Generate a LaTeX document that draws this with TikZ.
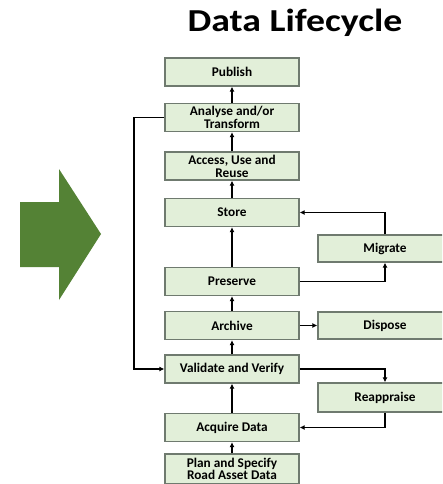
\documentclass[tikz,border=0pt]{standalone}
\usepackage{fontspec}
\setmainfont{Carlito}
\usetikzlibrary{arrows.meta}
\definecolor{boxfill}{HTML}{E2EFD9}
\definecolor{boxline}{HTML}{6F7A6F}
\definecolor{arrowgreen}{HTML}{548235}
\begin{document}
\begin{tikzpicture}[x=1pt,y=-1pt,
  stage/.style={draw=boxline, line width=1.3pt, fill=boxfill, minimum width=134pt,
    minimum height=28pt, inner sep=0pt, align=center, font=\fontsize{13.3}{13.2}\selectfont\bfseries},
  flow/.style={line width=1.9pt, -{Latex[length=5pt,width=5pt]}}]
\useasboundingbox (0,0) rectangle (442,484);
\begin{scope}
\clip (0,0) rectangle (442,484);
% big block arrow on the left
\fill[arrowgreen] (20,202) -- (59,202) -- (59,169) -- (101,234) -- (59,300) -- (59,267) -- (20,267) -- cycle;
% title
\node[font=\fontsize{32}{34}\selectfont\bfseries, anchor=base, inner sep=0pt] (title) at (295,32) {\scalebox{1.18}[1]{Data Lifecycle}};
% main column
\node[stage] (publish) at (232,72) {Publish};
\node[stage] (analyse) at (232,117.5) {Analyse and/or\\Transform};
\node[stage] (access) at (232,166) {Access, Use and\\Reuse};
\node[stage] (store) at (232,212.5) {Store};
\node[stage] (preserve) at (232,281.5) {Preserve};
\node[stage] (archive) at (232,325.5) {Archive};
\node[stage] (validate) at (232,369) {Validate and Verify};
\node[stage] (acquire) at (232,427.5) {Acquire Data};
\node[stage, minimum height=30pt, font=\fontsize{13.3}{12.6}\selectfont\bfseries] (plan) at (232,469) {Plan and Specify\\Road Asset Data};
% side column
\node[stage, minimum height=27pt] (migrate) at (385,248.5) {Migrate};
\node[stage, minimum height=27pt] (dispose) at (385,325.5) {Dispose};
\node[stage, minimum height=29pt] (reappraise) at (385,397.5) {Reappraise};
% upward flow
\draw[flow] (plan) -- (acquire);
\draw[flow] (acquire) -- (validate);
\draw[flow] (validate) -- (archive);
\draw[flow] (archive) -- (preserve);
\draw[flow] (preserve) -- (store);
\draw[flow] (store) -- (access);
\draw[flow] (access) -- (analyse);
\draw[flow] (analyse) -- (publish);
% feedback loop from analysis back to validation
\coordinate (loopTop) at (134,117.5);
\coordinate (loopBottom) at (134,369);
\draw[flow] (analyse.west) -- (loopTop) -- (loopBottom) -- (validate.west);
% side branches
\draw[flow] (preserve.east) -| (migrate.south);
\draw[flow] (migrate.north) |- (store.east);
\draw[flow] (archive.east) -- (dispose.west);
\draw[flow] (validate.east) -| (reappraise.north);
\draw[flow] (reappraise.south) |- (acquire.east);
\end{scope}
\end{tikzpicture}
\end{document}
